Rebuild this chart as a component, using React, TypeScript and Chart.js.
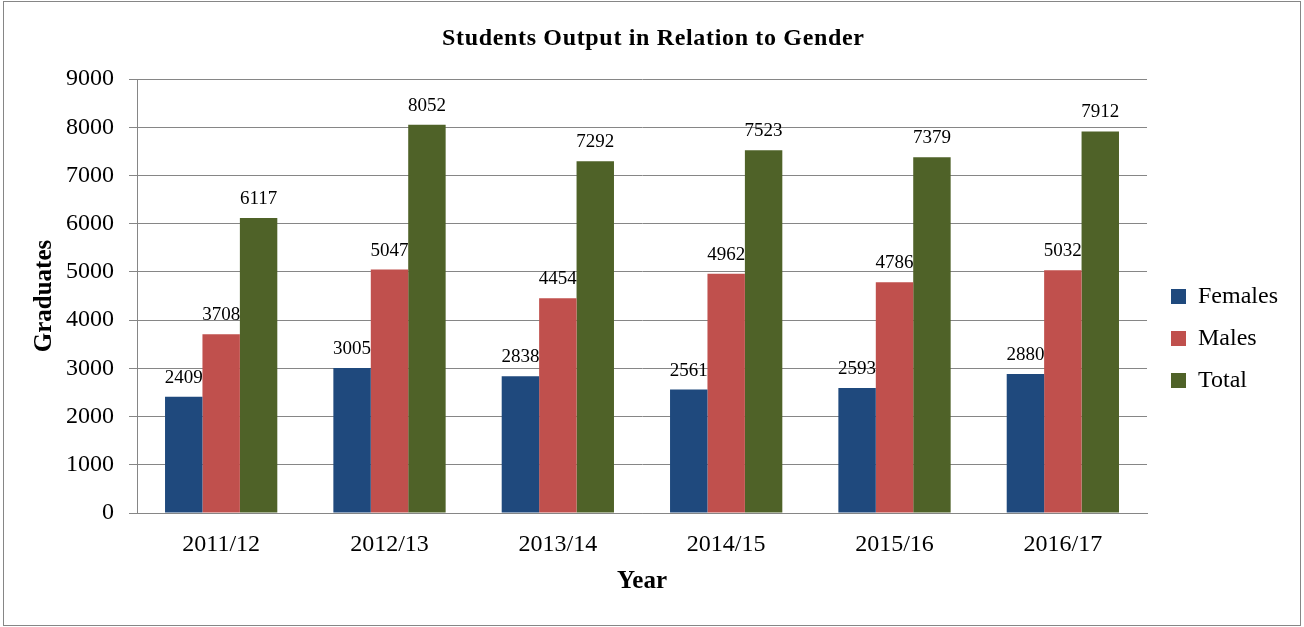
import React, { useEffect, useRef } from "react";
import { Chart, registerables } from "chart.js";

Chart.register(...registerables);

const categories = ["2011/12", "2012/13", "2013/14", "2014/15", "2015/16", "2016/17"];
const females = [2409, 3005, 2838, 2561, 2593, 2880];
const males = [3708, 5047, 4454, 4962, 4786, 5032];
const totals = [6117, 8052, 7292, 7523, 7379, 7912];
const seriesNames = ["Females", "Males", "Total"];
const seriesColors = ["#1F497D", "#C0504D", "#4F6228"];
const chartTitle = "Students Output in Relation to Gender";
const yTitle = "Graduates";
const xTitle = "Year";
const yMin = 0;
const yMax = 9000;
const yStep = 1000;

const FONT = "'Liberation Serif', 'Times New Roman', serif";
const GRID = "#868686";

const framePlugin = {
  id: "framePlugin",
  beforeDraw(chart: any) {
    const ctx = chart.ctx;
    ctx.save();
    ctx.fillStyle = "#ffffff";
    ctx.fillRect(0, 0, chart.width, chart.height);
    ctx.restore();
  },
  afterDraw(chart: any) {
    const ctx = chart.ctx;
    ctx.save();
    ctx.strokeStyle = GRID;
    ctx.lineWidth = 1;
    ctx.strokeRect(3.5, 1.5, chart.width - 7, chart.height - 3);
    // title
    (ctx as any).letterSpacing = "0px";
    ctx.font = `bold 24px ${FONT}`;
    ctx.fillStyle = "#000";
    ctx.textBaseline = "alphabetic";
    ctx.textAlign = "left";
    const w = ctx.measureText(chartTitle).width;
    const target = 422;
    const ls = Math.max(0, (target - w) / (chartTitle.length - 1));
    (ctx as any).letterSpacing = `${ls}px`;
    ctx.fillText(chartTitle, 442, 45);
    (ctx as any).letterSpacing = "0px";
    ctx.restore();
  },
};

const valueLabelPlugin = {
  id: "valueLabelPlugin",
  afterDatasetsDraw(chart: any) {
    const ctx = chart.ctx;
    ctx.save();
    ctx.font = `19px ${FONT}`;
    ctx.fillStyle = "#000";
    ctx.textAlign = "center";
    ctx.textBaseline = "alphabetic";
    chart.data.datasets.forEach((ds: any, di: number) => {
      const meta = chart.getDatasetMeta(di);
      meta.data.forEach((bar: any, i: number) => {
        ctx.fillText(String(ds.data[i]), bar.x, bar.y - 14);
      });
    });
    ctx.restore();
  },
};

export default function App() {
  const canvasRef = useRef<HTMLCanvasElement | null>(null);

  useEffect(() => {
    if (!canvasRef.current) return;
    const seriesValues = [females, males, totals];
    const chart = new Chart(canvasRef.current, {
      type: "bar",
      data: {
        labels: categories,
        datasets: seriesNames.map((name, i) => ({
          label: name,
          data: seriesValues[i],
          backgroundColor: seriesColors[i],
          borderWidth: 0,
          categoryPercentage: 0.667,
          barPercentage: 1.0,
        })),
      },
      options: {
        responsive: false,
        animation: false,
        devicePixelRatio: 1,
        layout: { padding: { top: 79, right: 16, bottom: 29, left: 0 } },
        plugins: {
          title: { display: false },
          tooltip: { enabled: false },
          legend: {
            position: "right",
            align: "center",
            labels: {
              boxWidth: 15,
              boxHeight: 15,
              padding: 18,
              color: "#000",
              font: { family: FONT, size: 24 },
            },
          },
        },
        scales: {
          x: {
            ticks: { color: "#000", font: { family: FONT, size: 24 }, padding: 17 },
            grid: { display: false, drawTicks: false },
            border: { display: true, color: GRID, width: 1 },
            title: {
              display: true,
              text: xTitle,
              color: "#000",
              font: { family: FONT, size: 25, weight: "bold" },
              padding: { top: 0, bottom: 1 },
            },
            afterFit: (s: any) => {
              s.height = 85;
            },
          },
          y: {
            min: yMin,
            max: yMax,
            ticks: {
              stepSize: yStep,
              color: "#000",
              font: { family: FONT, size: 24 },
              padding: 15,
              callback: (v: any) => String(v),
            },
            grid: { color: GRID, lineWidth: 1, tickLength: 8, drawTicks: true },
            border: { display: true, color: GRID, width: 1 },
            title: {
              display: true,
              text: yTitle,
              color: "#000",
              font: { family: FONT, size: 25, weight: "bold" },
              padding: { top: 30, bottom: 0 },
            },
            afterFit: (s: any) => {
              s.width = 137;
            },
          },
          y2: {
            position: "right",
            display: true,
            grid: { display: false, drawTicks: false },
            ticks: { display: false },
            border: { display: false },
            afterFit: (s: any) => {
              s.width = 6;
            },
          },
        },
      } as any,
      plugins: [framePlugin, valueLabelPlugin],
    });
    return () => chart.destroy();
  }, []);

  return (
    <div style={{ position: "absolute", left: 0, top: 0, width: 1304, height: 627, background: "#fff" }}>
      <canvas ref={canvasRef} width={1304} height={627} style={{ display: "block" }} />
    </div>
  );
}
